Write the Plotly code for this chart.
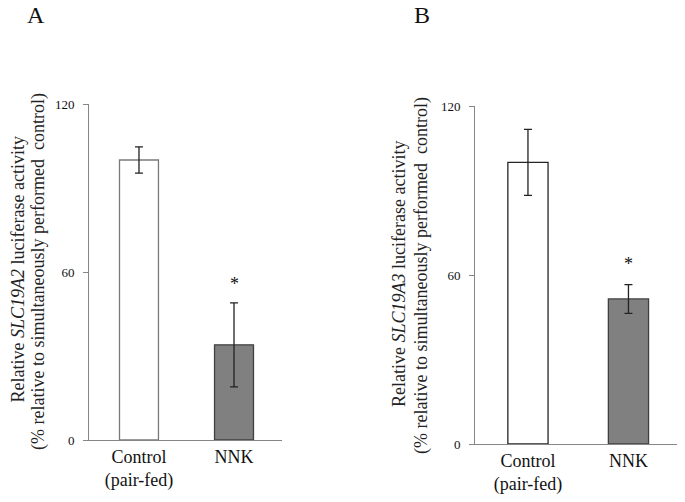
import plotly.graph_objects as go

W, H = 685, 502

categories = ["Control<br>(pair-fed)", "NNK"]
a_values = [100, 34]
a_errors = [4.7, 15]
b_values = [100, 51.5]
b_errors = [11.7, 5.1]
a_star = 55.8
b_star = 64.0
y_ticks = [0, 60, 120]

FONT = "'Liberation Serif', 'Times New Roman', Times, serif"

def px(x0, x1):
    return [x0 / W, x1 / W]

def py(ybot, ytop):
    return [(H - ybot) / H, (H - ytop) / H]

fig = go.Figure()

fig.add_trace(go.Bar(
    x=categories, y=a_values, width=0.41,
    marker=dict(color=["white", "#808080"], line=dict(color=["#7a7a7a", "#404040"], width=1.3)),
    error_y=dict(type="data", array=a_errors, color="#222222", thickness=1.3, width=4),
    xaxis="x", yaxis="y", showlegend=False, hoverinfo="skip"))

fig.add_trace(go.Bar(
    x=categories, y=b_values, width=0.40,
    marker=dict(color=["white", "#808080"], line=dict(color=["#262626", "#404040"], width=1.3)),
    error_y=dict(type="data", array=b_errors, color="#222222", thickness=1.3, width=4),
    xaxis="x2", yaxis="y2", showlegend=False, hoverinfo="skip"))

xcommon = dict(type="category", showline=True, linecolor="#868686", linewidth=1,
               ticks="", showgrid=False, zeroline=False, automargin=False,
               tickfont=dict(family=FONT, size=18, color="#111"), fixedrange=True)
ycommon = dict(showline=True, linecolor="#868686", linewidth=1, ticks="outside",
               ticklen=5, tickcolor="#868686", tickvals=y_ticks, showgrid=False,
               zeroline=False, range=[0, 120], ticklabelstandoff=6, automargin=False,
               tickfont=dict(family=FONT, size=13, color="#111"), fixedrange=True)

fig.update_layout(
    width=W, height=H, margin=dict(l=0, r=0, t=0, b=0, pad=0, autoexpand=False),
    paper_bgcolor="white", plot_bgcolor="white",
    font=dict(family=FONT, color="#111"),
    bargap=0.5,
    xaxis=dict(domain=px(89, 282), range=[-0.526, 1.505], anchor="y", **xcommon),
    yaxis=dict(domain=py(440, 104), anchor="x", **ycommon),
    xaxis2=dict(domain=px(475, 677), range=[-0.527, 1.483], anchor="y2", **xcommon),
    yaxis2=dict(domain=py(444, 106), anchor="x2", **ycommon),
)

ann = []
ann.append(dict(text="A", x=36 / W, y=(H - 15) / H, xref="paper", yref="paper",
                showarrow=False, font=dict(family=FONT, size=24, color="#111"),
                xanchor="center", yanchor="middle"))
ann.append(dict(text="B", x=422 / W, y=(H - 15) / H, xref="paper", yref="paper",
                showarrow=False, font=dict(family=FONT, size=24, color="#111"),
                xanchor="center", yanchor="middle"))
titles = [
    ("Relative <i>SLC19A2</i> luciferase activity", 17.5, 270),
    ("(% relative to simultaneously performed  control)", 38, 272),
    ("Relative <i>SLC19A3</i> luciferase activity", 399, 274),
    ("(% relative to simultaneously performed  control)", 421, 276),
]
for t, xx, yy in titles:
    ann.append(dict(text=t, x=xx / W, y=(H - yy) / H, xref="paper", yref="paper",
                    showarrow=False, textangle=-90,
                    font=dict(family=FONT, size=18, color="#222"),
                    xanchor="center", yanchor="middle"))
ann.append(dict(text="*", x="NNK", y=a_star, xref="x", yref="y", showarrow=False,
                font=dict(family=FONT, size=18, color="#111"), xanchor="center", yanchor="middle"))
ann.append(dict(text="*", x="NNK", y=b_star, xref="x2", yref="y2", showarrow=False,
                font=dict(family=FONT, size=18, color="#111"), xanchor="center", yanchor="middle"))
fig.update_layout(annotations=ann)

fig.write_html("out.html",
               config={"displayModeBar": False, "staticPlot": True},
               post_script="document.body.style.margin='0';document.body.style.padding='0';"
                           "document.documentElement.style.overflow='hidden';")
